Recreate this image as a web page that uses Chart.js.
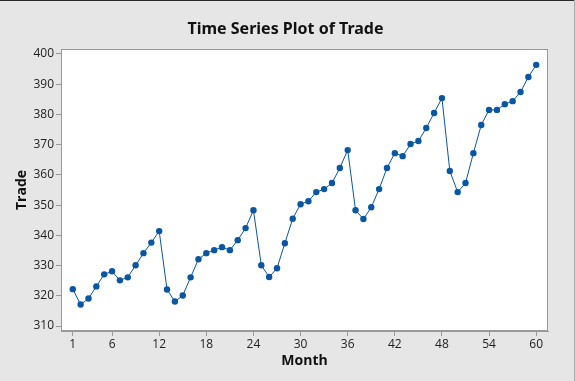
<!DOCTYPE html>
<html>
<head>
<meta charset="utf-8">
<script src="https://cdn.jsdelivr.net/npm/chart.js@4/dist/chart.umd.min.js"></script>
<style>
  html, body { margin: 0; padding: 0; background: #e6e6e6; }
  #wrap { width: 575px; height: 381px; position: relative; }
</style>
</head>
<body>
<div id="wrap"><canvas id="c" width="575" height="381"></canvas></div>
<script>
const chartTitle = 'Time Series Plot of Trade';
const months = [];
for (let i = 1; i <= 60; i++) months.push(i);
const trade = [
  322.2, 317.1, 319.1, 323.1, 327.1, 328.1, 325.1, 326.1, 330.1, 334.1, 337.6, 341.4,
  322.1, 318.1, 320.1, 326.1, 332.1, 334.1, 335.1, 336.1, 335.1, 338.4, 342.4, 348.3,
  330.1, 326.2, 329.1, 337.4, 345.5, 350.3, 351.3, 354.3, 355.3, 357.3, 362.3, 368.2,
  348.3, 345.4, 349.3, 355.3, 362.3, 367.2, 366.2, 370.2, 371.2, 375.5, 380.5, 385.4,
  361.3, 354.3, 357.3, 367.2, 376.5, 381.5, 381.5, 383.4, 384.4, 387.4, 392.4, 396.4
];
const xTicks = [1, 6, 12, 18, 24, 30, 36, 42, 48, 54, 60];
const yTicks = [310, 320, 330, 340, 350, 360, 370, 380, 390, 400];

const frame = {
  id: 'frame',
  beforeDraw(chart) {
    const ctx = chart.ctx, a = chart.chartArea;
    ctx.save();
    ctx.fillStyle = '#e6e6e6';
    ctx.fillRect(0, 0, chart.width, chart.height);
    ctx.fillStyle = '#2a2a2a';
    ctx.fillRect(0, 0, chart.width, 1);
    ctx.fillStyle = '#a8a8a8';
    ctx.fillRect(chart.width - 1, 0, 1, chart.height);
    ctx.fillStyle = '#ffffff';
    ctx.fillRect(a.left, a.top, a.right - a.left, a.bottom - a.top);
    ctx.restore();
  },
  afterDatasetsDraw(chart) {
    const ctx = chart.ctx, a = chart.chartArea;
    ctx.save();
    ctx.strokeStyle = '#999999';
    ctx.lineWidth = 1;
    ctx.strokeRect(Math.round(a.left) + 0.5, Math.round(a.top) + 0.5,
      Math.round(a.right - a.left) - 1, Math.round(a.bottom - a.top) - 1);
    ctx.restore();
  },
  afterDraw(chart) {
    const ctx = chart.ctx;
    ctx.save();
    ctx.fillStyle = '#111';
    ctx.font = 'bold 16px "Noto Sans"';
    ctx.textAlign = 'center';
    ctx.textBaseline = 'middle';
    ctx.fillText(chartTitle, 285.5, 29.5);
    ctx.restore();
  }
};

new Chart(document.getElementById('c'), {
  type: 'line',
  data: {
    datasets: [{
      data: months.map((m, i) => ({ x: m, y: trade[i] })),
      borderColor: '#0a56a3',
      backgroundColor: '#0a56a3',
      borderWidth: 1,
      pointRadius: 3.2,
      pointHoverRadius: 3.2,
      pointBorderWidth: 0,
      tension: 0
    }]
  },
  options: {
    responsive: false,
    animation: false,
    events: [],
    layout: { padding: { left: 0, right: 27, top: 49, bottom: 0 } },
    plugins: {
      legend: { display: false },
      tooltip: { enabled: false },
      title: { display: false }
    },
    scales: {
      x: {
        type: 'linear',
        min: -0.5,
        max: 61.5,
        afterBuildTicks: s => { s.ticks = xTicks.map(v => ({ value: v })); },
        afterFit: s => { s.height = 50; },
        ticks: {
          color: '#222',
          font: { family: 'Open Sans', size: 12 },
          padding: 1,
          maxRotation: 0,
          autoSkip: false
        },
        grid: { drawOnChartArea: false, tickLength: 5, color: '#999' },
        border: { color: '#999' },
        title: {
          display: true,
          text: 'Month',
          color: '#111',
          font: { family: 'Open Sans', size: 14, weight: 'bold' },
          padding: { top: 0, bottom: 12 }
        }
      },
      y: {
        min: 308.35,
        max: 401.65,
        afterBuildTicks: s => { s.ticks = yTicks.map(v => ({ value: v })); },
        afterFit: s => { s.width = 61; },
        ticks: {
          color: '#222',
          font: { family: 'Open Sans', size: 12 },
          padding: 2
        },
        grid: { drawOnChartArea: false, tickLength: 5, color: '#999' },
        border: { color: '#999' },
        title: {
          display: true,
          text: 'Trade',
          color: '#111',
          font: { family: 'Open Sans', size: 14, weight: 'bold' },
          padding: { top: 14, bottom: 0 }
        }
      }
    }
  },
  plugins: [frame]
});
</script>
</body>
</html>
